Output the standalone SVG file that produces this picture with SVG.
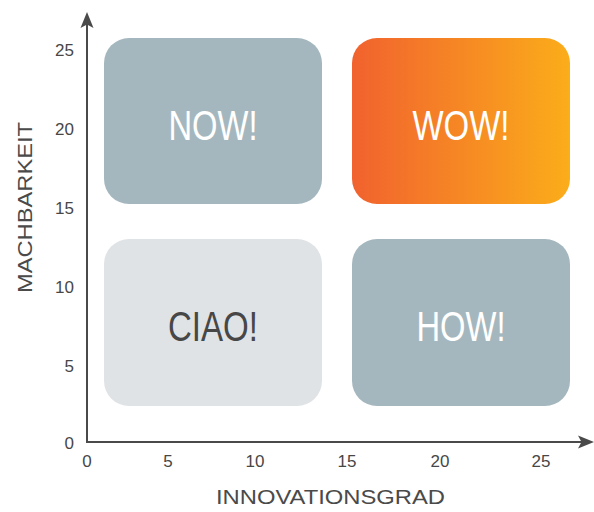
<svg xmlns="http://www.w3.org/2000/svg" width="594" height="512" viewBox="0 0 594 512">
<style>
.tick{font-family:"Liberation Sans",Arial,sans-serif;font-size:17px;fill:#474747}
.axlab{font-family:"Liberation Sans",Arial,sans-serif;font-size:20.5px;fill:#4a4a4a}
.big{font-family:"Liberation Sans",Arial,sans-serif;font-size:42.5px;text-anchor:middle}
.axis{stroke:#4a4a4a;stroke-width:2;fill:none}
.head{fill:#4a4a4a}
</style>
<defs>
<linearGradient id="wow" x1="0" y1="0" x2="1" y2="0">
<stop offset="0" stop-color="#f1622e"/>
<stop offset="1" stop-color="#fbad1a"/>
</linearGradient>
</defs>
<rect width="594" height="512" fill="#ffffff"/>
<g id="now">
<rect x="104" y="38" width="218" height="166" rx="25" fill="#a5b7be"/>
<text class="big" x="213" y="140" fill="#ffffff" textLength="89" lengthAdjust="spacingAndGlyphs">NOW!</text>
</g>
<g id="wow">
<rect x="352" y="38" width="218" height="166" rx="25" fill="url(#wow)"/>
<text class="big" x="461" y="140" fill="#ffffff" textLength="97" lengthAdjust="spacingAndGlyphs">WOW!</text>
</g>
<g id="ciao">
<rect x="104" y="239" width="218" height="167" rx="25" fill="#e0e3e6"/>
<text class="big" x="213" y="341" fill="#474747" textLength="90" lengthAdjust="spacingAndGlyphs">CIAO!</text>
</g>
<g id="how">
<rect x="352" y="239" width="218" height="167" rx="25" fill="#a5b7be"/>
<text class="big" x="461" y="341" fill="#ffffff" textLength="89" lengthAdjust="spacingAndGlyphs">HOW!</text>
</g>
<g id="connectors">
<path class="axis" d="M87 443 V22"/>
<path class="axis" d="M86 442 H586"/>
<path class="head" d="M87 12 L93.5 28 L87 24.5 L80.5 28 Z"/>
<path class="head" d="M594 442 L578 448.5 L581.5 442 L578 435.5 Z"/>
</g>
<g id="yticks" class="tick" text-anchor="end">
<text x="74" y="56">25</text>
<text x="74" y="135">20</text>
<text x="74" y="214">15</text>
<text x="74" y="293">10</text>
<text x="74" y="372">5</text>
<text x="74" y="449">0</text>
</g>
<g id="xticks" class="tick" text-anchor="middle">
<text x="87" y="467">0</text>
<text x="168" y="467">5</text>
<text x="255" y="467">10</text>
<text x="347" y="467">15</text>
<text x="440" y="467">20</text>
<text x="541" y="467">25</text>
</g>
<text class="axlab" x="216" y="504" textLength="229" lengthAdjust="spacingAndGlyphs">INNOVATIONSGRAD</text>
<text class="axlab" transform="translate(32 293) rotate(-90)" x="0" y="0" textLength="171" lengthAdjust="spacingAndGlyphs">MACHBARKEIT</text>
</svg>
